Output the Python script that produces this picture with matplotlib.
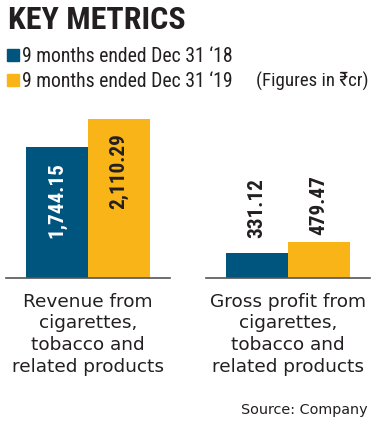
import matplotlib
matplotlib.use('Agg')
import matplotlib.pyplot as plt
from matplotlib import font_manager
from matplotlib.patches import Rectangle

# chart values (Rs crore)
groups = ['Revenue from\ncigarettes,\ntobacco and\nrelated products',
          'Gross profit from\ncigarettes,\ntobacco and\nrelated products']
series = ["9 months ended Dec 31 \u201818", "9 months ended Dec 31 \u201819"]
vals_2018 = [1744.15, 331.12]
vals_2019 = [2110.29, 479.47]
labels_2018 = ['1,744.15', '331.12']
labels_2019 = ['2,110.29', '479.47']

blue = '#00557f'
yellow = '#f9b518'
dark = '#231f20'

# pick a condensed face if one is installed
names = {f.name for f in font_manager.fontManager.ttflist}
cond_dejavu = any(f.name == 'DejaVu Sans' and f.stretch == 'condensed'
                  for f in font_manager.fontManager.ttflist)
narrow_name = 'Roboto'
stretch = 'normal'
for cand in ['Roboto Condensed', 'Liberation Sans Narrow', 'Open Sans Condensed']:
    if cand in names:
        narrow_name = cand
        break
else:
    if cond_dejavu:
        narrow_name = 'DejaVu Sans'
        stretch = 'condensed'
narrow = [narrow_name, 'DejaVu Sans']
plain = ['DejaVu Sans']

W, H = 376, 438
fig = plt.figure(figsize=(W / 100, H / 100), dpi=100)


def fx(x):
    return x / W


def fy(y):
    return 1 - y / H


# title and legend
fig.text(fx(8), fy(29), 'KEY METRICS', family=narrow, stretch=stretch, weight='bold',
         fontsize=23, color=dark, va='baseline', ha='left')
for i, (name, col) in enumerate(zip(series, [blue, yellow])):
    ytop = 49 + i * 25
    fig.patches.append(Rectangle((fx(7), fy(ytop + 12)), 12 / W, 12 / H,
                                 transform=fig.transFigure, color=col))
    fig.text(fx(22), fy(ytop + 13), name, family=narrow, stretch=stretch, fontsize=14.2,
             color=dark, va='baseline', ha='left')
fig.text(fx(368), fy(87), '(Figures in \u20b9cr)', family=narrow, stretch=stretch,
         fontsize=13.6, color=dark, va='baseline', ha='right')

# two bar panels sharing one value scale
ymax = 2654
base = 278
panel_h = 200
lefts = [6, 206]
lab = dict(rotation=90, ha='center', family=narrow, stretch=stretch, weight='bold',
           fontsize=15.3, textcoords='offset points')
for k in range(2):
    ax = fig.add_axes([fx(lefts[k]), fy(base), 164 / W, panel_h / H])
    ax.set_xlim(-1.32, 1.32)
    ax.set_ylim(0, ymax)
    ax.bar(-0.5, vals_2018[k], width=1, color=blue)
    ax.bar(0.5, vals_2019[k], width=1, color=yellow)
    for s in ['top', 'left', 'right']:
        ax.spines[s].set_visible(False)
    ax.spines['bottom'].set_color('#555555')
    ax.spines['bottom'].set_linewidth(1.2)
    ax.set_xticks([])
    ax.set_yticks([])
    ax.patch.set_alpha(0)

    if k == 0:
        ax.annotate(labels_2018[k], (-0.5, vals_2018[k]), xytext=(0, -11.5),
                    va='top', color='white', **lab)
        ax.annotate(labels_2019[k], (0.5, vals_2019[k]), xytext=(0, -10),
                    va='top', color=dark, **lab)
    else:
        ax.annotate(labels_2018[k], (-0.5, vals_2018[k]), xytext=(0, 10.5),
                    va='bottom', color=dark, **lab)
        ax.annotate(labels_2019[k], (0.5, vals_2019[k]), xytext=(0, 5),
                    va='bottom', color=dark, **lab)

    fig.text(fx(lefts[k] + 82), fy(293), groups[k], family=plain, fontsize=13.3,
             color=dark, ha='center', va='top', linespacing=1.25)

fig.text(fx(368), fy(414), 'Source: Company', family=plain, fontsize=10.4,
         color=dark, ha='right', va='baseline')

fig.savefig('out.png', dpi=100)
